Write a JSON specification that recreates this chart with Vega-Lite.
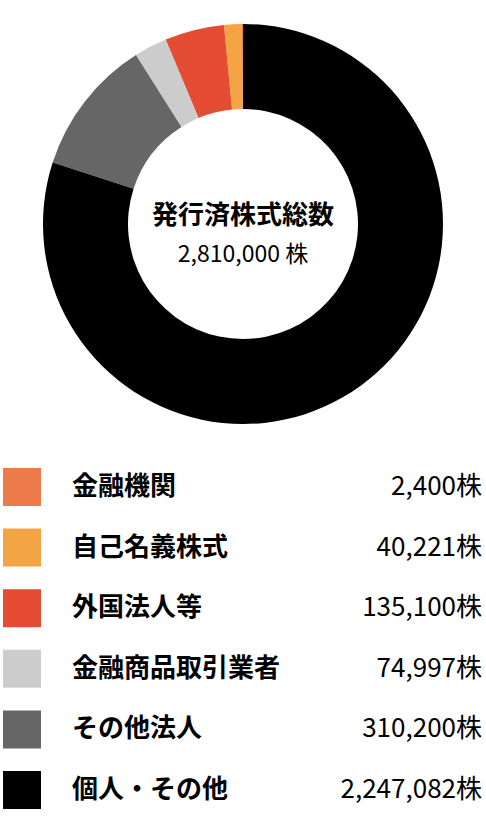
{
  "$schema": "https://vega.github.io/schema/vega-lite/v6.json",
  "padding": 0,
  "spacing": 0,
  "background": "white",
  "config": {
    "view": {"stroke": null},
    "font": "Noto Sans CJK JP",
    "text": {"font": "Noto Sans CJK JP", "baseline": "middle"}
  },
  "datasets": {
    "holders": [
      {"holder": "金融機関", "shares": 2400, "rank": 1},
      {"holder": "自己名義株式", "shares": 40221, "rank": 2},
      {"holder": "外国法人等", "shares": 135100, "rank": 3},
      {"holder": "金融商品取引業者", "shares": 74997, "rank": 4},
      {"holder": "その他法人", "shares": 310200, "rank": 5},
      {"holder": "個人・その他", "shares": 2247082, "rank": 6}
    ]
  },
  "vconcat": [
    {
      "width": 486,
      "height": 448,
      "layer": [
        {
          "data": {"name": "holders"},
          "mark": {"type": "arc", "innerRadius": 115, "outerRadius": 200},
          "encoding": {
            "theta": {"field": "shares", "type": "quantitative", "stack": true},
            "order": {"field": "rank", "sort": "descending"},
            "color": {
              "field": "holder",
              "type": "nominal",
              "scale": {
                "domain": ["金融機関", "自己名義株式", "外国法人等", "金融商品取引業者", "その他法人", "個人・その他"],
                "range": ["#ED7A4B", "#F4A543", "#E44D34", "#CCCCCC", "#666666", "#000000"]
              },
              "legend": null
            }
          }
        },
        {
          "data": {"values": [{"caption": "発行済株式総数"}]},
          "mark": {"type": "text", "fontSize": 26, "fontWeight": "bold", "dy": -8, "color": "#000"},
          "encoding": {"text": {"field": "caption"}}
        },
        {
          "data": {"values": [{"caption": "2,810,000 株"}]},
          "mark": {"type": "text", "fontSize": 23, "dy": 31, "color": "#000"},
          "encoding": {"text": {"field": "caption"}}
        }
      ]
    },
    {
      "width": 486,
      "height": 380,
      "data": {"name": "holders"},
      "encoding": {
        "y": {
          "field": "holder",
          "type": "nominal",
          "sort": {"field": "rank"},
          "scale": {"type": "point", "padding": 0, "range": [39, 342]},
          "axis": null
        }
      },
      "layer": [
        {
          "mark": {"type": "square", "size": 1444, "opacity": 1, "filled": true},
          "encoding": {
            "x": {"datum": 22, "type": "quantitative", "scale": {"domain": [0, 486], "range": [0, 486], "nice": false, "zero": false}, "axis": null},
            "color": {"field": "holder", "type": "nominal", "legend": null}
          }
        },
        {
          "mark": {"type": "text", "align": "left", "fontSize": 26, "fontWeight": "bold", "color": "#000"},
          "encoding": {
            "x": {"datum": 72, "type": "quantitative"},
            "text": {"field": "holder"}
          }
        },
        {
          "mark": {"type": "text", "align": "right", "fontSize": 26, "color": "#000"},
          "encoding": {
            "x": {"datum": 456, "type": "quantitative"},
            "text": {"field": "shares", "type": "quantitative", "format": ","}
          }
        },
        {
          "mark": {"type": "text", "align": "left", "fontSize": 26, "color": "#000"},
          "encoding": {
            "x": {"datum": 456, "type": "quantitative"},
            "text": {"value": "株"}
          }
        }
      ]
    }
  ]
}
